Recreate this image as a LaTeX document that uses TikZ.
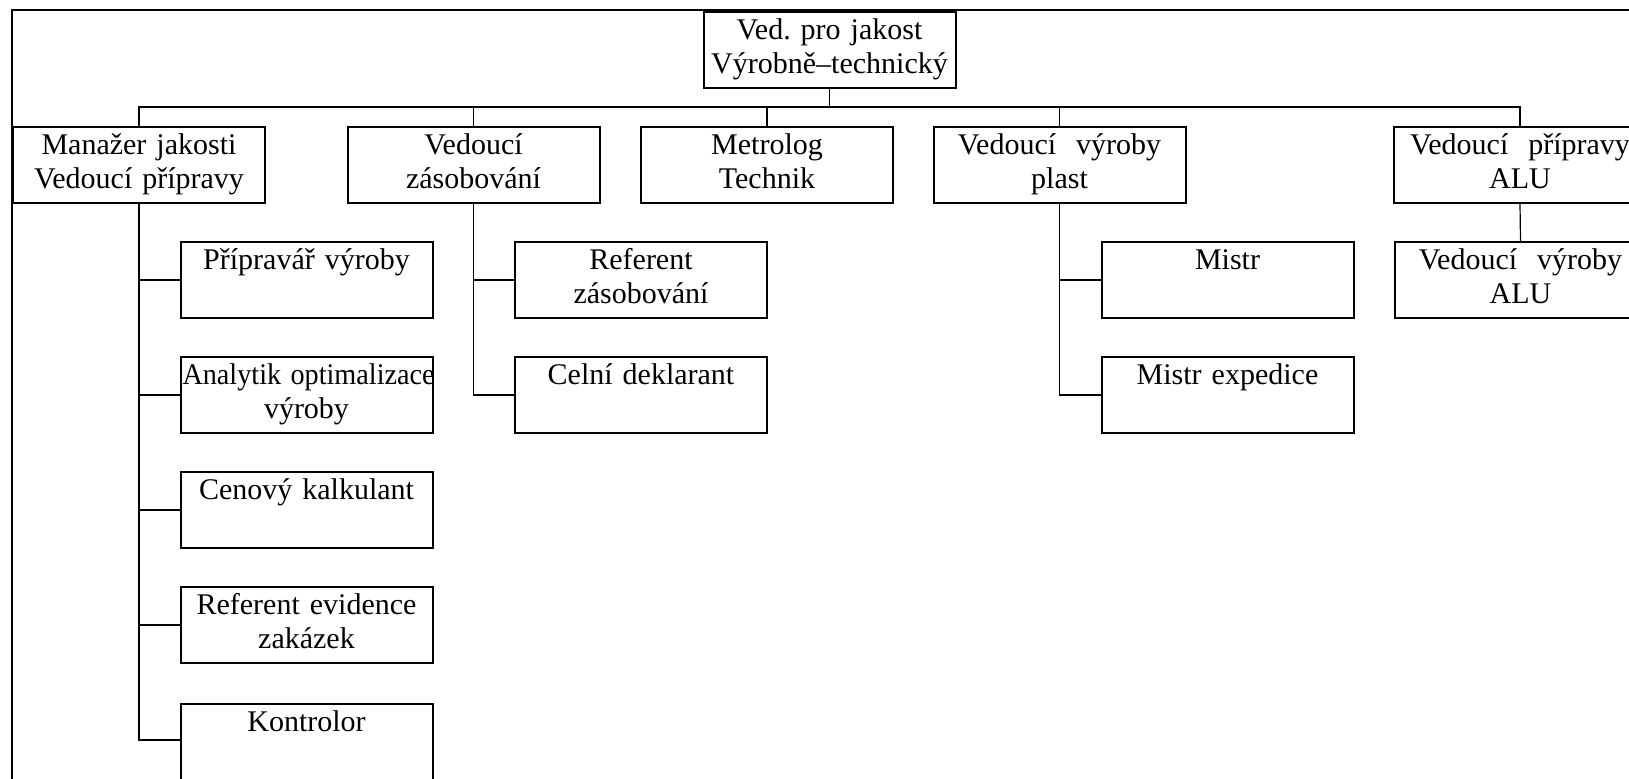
\documentclass[tikz,border=0pt]{standalone}
\usepackage{fontspec}
\usepackage{graphicx}
\setmainfont{Liberation Serif}
\usetikzlibrary{calc}
\frenchspacing
\tikzset{
  box/.style={draw,line width=1pt,inner sep=0pt,minimum width=126pt,minimum height=38pt,
    text width=124pt,align=center,font=\fontsize{15}{17}\selectfont},
  link/.style={line width=0.6pt},
  frame/.style={line width=0.8pt}
}
\newcommand{\two}[2]{\strut #1\\\strut #2}
\begin{document}
\begin{tikzpicture}[x=0.5pt,y=-0.5pt]
\useasboundingbox (0,0) rectangle (1629,778);
\draw[frame] (12,10) rectangle (1680,820);
\node[box] (jakost) at (829.5,50) {\two{Ved. pro jakost}{Výrobně--technický}};
\node[box] (mgr) at (139,165) {\two{Manažer jakosti}{Vedoucí přípravy}};
\node[box] (zas) at (473.5,165) {\two{Vedoucí}{zásobování}};
\node[box] (metro) at (767,165) {\two{Metrolog}{Technik}};
\node[box] (plast) at (1059.5,165) {\two{Vedoucí\ \ výroby}{plast}};
\node[box] (alu) at (1520,165) {\two{Vedoucí\ \ přípravy}{ALU}};
\node[box] (pripravar) at (306.5,280) {\two{Přípravář výroby}{}};
\node[box] (analytik) at (306.5,395) {\two{\scalebox{0.94}[1]{Analytik optimalizace}}{výroby}};
\node[box] (kalkulant) at (306.5,510) {\two{Cenový kalkulant}{}};
\node[box] (evidence) at (306.5,625) {\two{Referent evidence}{zakázek}};
\node[box] (kontrolor) at (306.5,742) {\two{Kontrolor}{}};
\node[box] (referent) at (641,280) {\two{Referent}{zásobování}};
\node[box] (celni) at (641,395) {\two{Celní deklarant}{}};
\node[box] (mistr) at (1227.5,280) {\two{Mistr}{}};
\node[box] (expedice) at (1227.5,395) {\two{Mistr expedice}{}};
\node[box] (vyrobaalu) at (1520.5,280) {\two{Vedoucí\ \ výroby}{ALU}};
\coordinate (bus) at (0,107);
\draw[link] (jakost.south) -- (jakost.south |- bus);
\draw[link] (mgr.north) -- (mgr.north |- bus) -- (alu.north |- bus) -- (alu.north);
\foreach \n in {zas,metro,plast}
  \draw[link] (\n.north) -- (\n.north |- bus);
\foreach \n in {pripravar,analytik,kalkulant,evidence}
  \draw[link] (mgr.south) |- (\n.west);
\draw[link] (mgr.south) |- ([yshift=1pt]kontrolor.west);
\foreach \n in {referent,celni}
  \draw[link] (zas.south) |- (\n.west);
\foreach \n in {mistr,expedice}
  \draw[link] (plast.south) |- (\n.west);
\draw[link] (alu.south) -- (vyrobaalu.north);
\end{tikzpicture}
\end{document}
